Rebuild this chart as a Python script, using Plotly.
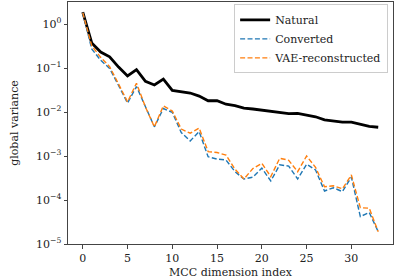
import plotly.graph_objects as go

idx = list(range(34))
natural = [1.87, 0.37, 0.23, 0.18, 0.105, 0.066, 0.092, 0.05, 0.041, 0.056, 0.031,
           0.029, 0.027, 0.023, 0.018, 0.018, 0.015, 0.014, 0.0123, 0.0117, 0.011,
           0.0107, 0.0100, 0.0092, 0.0093, 0.0085, 0.0078, 0.0066, 0.0062, 0.0059,
           0.0059, 0.0053, 0.0047, 0.0045]
converted = [1.8, 0.27, 0.15, 0.098, 0.040, 0.016, 0.038, 0.013, 0.0046, 0.012, 0.0098,
             0.0034, 0.0022, 0.0036, 0.00096, 0.00085, 0.00081, 0.00044, 0.00030, 0.00033,
             0.00053, 0.00027, 0.00063, 0.00059, 0.00030, 0.00065, 0.00048, 0.00016,
             0.00019, 0.000155, 0.00033, 4.2e-5, 5.2e-5, 1.9e-5]
vae = [1.8, 0.32, 0.175, 0.107, 0.043, 0.017, 0.045, 0.013, 0.0046, 0.0138, 0.0105,
       0.0041, 0.0033, 0.0043, 0.00126, 0.0012, 0.00105, 0.0005, 0.00030, 0.00052,
       0.00068, 0.00034, 0.00089, 0.0008, 0.00044, 0.0010, 0.00055, 0.0002,
       0.00021, 0.00018, 0.00037, 6.7e-5, 6.5e-5, 1.9e-5]

y_tickvals = [1e0, 1e-1, 1e-2, 1e-3, 1e-4, 1e-5]
y_ticktext = ["10<sup>0</sup>", "10<sup>−1</sup>", "10<sup>−2</sup>",
              "10<sup>−3</sup>", "10<sup>−4</sup>", "10<sup>−5</sup>"]
x_tickvals = [0, 5, 10, 15, 20, 25, 30]

font = "DejaVu Serif, serif"

fig = go.Figure()
fig.add_trace(go.Scatter(x=idx, y=natural, mode="lines", name="Natural",
                         line=dict(color="black", width=2.8)))
fig.add_trace(go.Scatter(x=idx, y=converted, mode="lines", name="Converted",
                         line=dict(color="#1f77b4", width=1.4, dash="5px,2.4px")))
fig.add_trace(go.Scatter(x=idx, y=vae, mode="lines", name="VAE-reconstructed",
                         line=dict(color="#ff7f0e", width=1.4, dash="5px,2.4px")))

axis_common = dict(showgrid=False, zeroline=False, showline=True, mirror=True,
                   linecolor="#444", linewidth=1, ticks="outside", ticklen=3.5,
                   tickcolor="#444", automargin=False,
                   tickfont=dict(family=font, size=11, color="#222"))

fig.update_layout(
    width=399, height=279,
    margin=dict(l=68, r=6, t=2, b=35),
    paper_bgcolor="white", plot_bgcolor="white",
    font=dict(family=font, size=11, color="#222"),
    xaxis=dict(range=[-1.65, 34.65], tickvals=x_tickvals,
               title=dict(text="MCC dimension index", font=dict(family=font, size=11)),
               **axis_common),
    yaxis=dict(type="log", range=[-5, 0.5], tickvals=y_tickvals, ticktext=y_ticktext,
               title=dict(text="global variance", font=dict(family=font, size=11)),
               **axis_common),
    legend=dict(x=0.985, y=0.99, xanchor="right", yanchor="top",
                bgcolor="rgba(255,255,255,0.8)", bordercolor="#ccc", borderwidth=1,
                font=dict(family=font, size=11, color="#222"), itemwidth=30, tracegroupgap=0),
    showlegend=True,
)

fig.write_html("out.html", config={"displayModeBar": False},
               post_script="document.body.style.margin='0';document.body.style.overflow='hidden';")
